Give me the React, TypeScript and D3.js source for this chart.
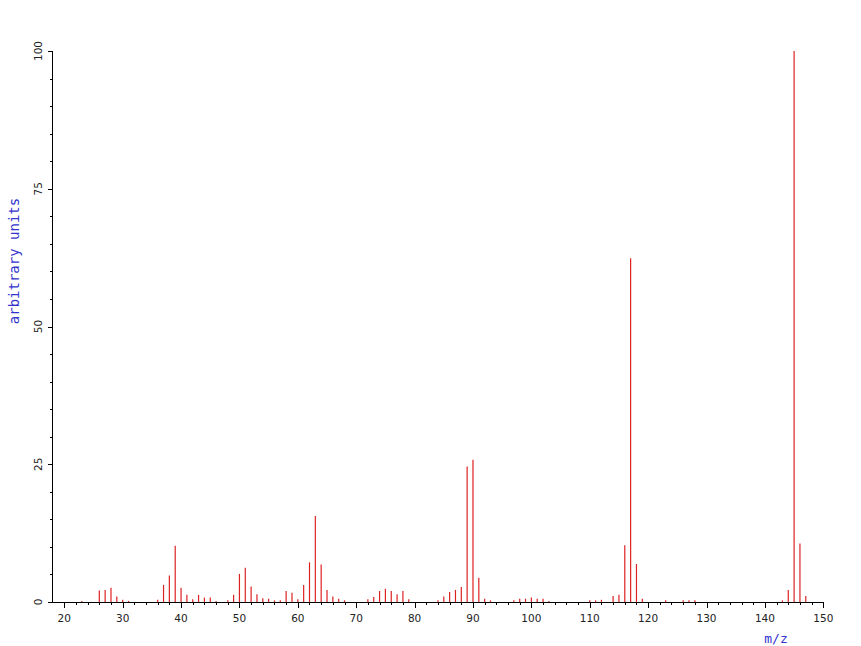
import React from 'react';
import * as d3 from 'd3';

// m/z positions and relative intensities
const mzValues = [
  23, 26, 27, 28, 29, 30, 31, 36, 37, 38, 39, 40, 41, 42, 43, 44, 45, 46, 48, 49,
  50, 51, 52, 53, 54, 55, 56, 57, 58, 59, 60, 61, 62, 63, 64, 65, 66, 67, 68,
  72, 73, 74, 75, 76, 77, 78, 79, 84, 85, 86, 87, 88, 89, 90, 91, 92, 93,
  97, 98, 99, 100, 101, 102, 103, 110, 111, 112, 114, 115, 116, 117, 118, 119,
  123, 126, 127, 128, 143, 144, 145, 146, 147,
];
const intensities = [
  0.2, 2.1, 2.2, 2.6, 1.0, 0.4, 0.2, 0.4, 3.1, 4.8, 10.2, 2.6, 1.3, 0.5, 1.3, 0.8, 0.8, 0.2, 0.3, 1.3,
  5.1, 6.2, 2.8, 1.4, 0.7, 0.6, 0.3, 0.3, 2.0, 1.7, 0.5, 3.1, 7.2, 15.6, 6.8, 2.2, 1.0, 0.6, 0.3,
  0.5, 0.9, 2.0, 2.4, 2.0, 1.4, 2.0, 0.5, 0.3, 1.0, 1.8, 2.2, 2.7, 24.6, 25.8, 4.4, 0.6, 0.3,
  0.3, 0.6, 0.6, 0.8, 0.6, 0.6, 0.2, 0.3, 0.3, 0.4, 1.1, 1.3, 10.3, 62.4, 6.9, 0.6,
  0.3, 0.3, 0.3, 0.3, 0.3, 2.2, 100, 10.6, 1.1,
];
const xMajorTicks = [20, 30, 40, 50, 60, 70, 80, 90, 100, 110, 120, 130, 140, 150];
const yMajorTicks = [0, 25, 50, 75, 100];

const width = 861;
const height = 646;

export default function App() {
  const x = d3.scaleLinear().domain([18, 150]).range([52.6, 823.3]);
  const y = d3.scaleLinear().domain([0, 100]).range([602, 51]);

  const xMinor = d3.range(20, 151, 2).filter((v) => v % 10 !== 0);
  const yMinor = d3.range(0, 101, 5).filter((v) => v % 25 !== 0);
  const peaks = mzValues.map((m, i) => ({ m, v: intensities[i] }));

  const y0 = y(0);
  const xLeft = x(18);

  return (
    <div style={{ position: 'absolute', left: 0, top: 0 }}>
      <svg width={width} height={height} style={{ display: 'block', background: '#fff' }}>
        {/* peaks */}
        <g stroke="#dd2222" strokeWidth={1.2}>
          {peaks.map((p) => (
            <line key={p.m} x1={x(p.m)} x2={x(p.m)} y1={y0} y2={y(p.v)} />
          ))}
        </g>

        {/* axes */}
        <g stroke="#000" strokeWidth={1} shapeRendering="crispEdges">
          <line x1={xLeft} x2={x(150)} y1={y0 + 0.5} y2={y0 + 0.5} />
          <line x1={xLeft} x2={xLeft} y1={y(100)} y2={y0} />
          {xMajorTicks.map((t) => (
            <line key={'xm' + t} x1={Math.round(x(t)) + 0.5} x2={Math.round(x(t)) + 0.5} y1={y0} y2={y0 + 6} />
          ))}
          {xMinor.map((t) => (
            <line key={'xn' + t} x1={Math.round(x(t)) + 0.5} x2={Math.round(x(t)) + 0.5} y1={y0} y2={y0 + 3} />
          ))}
          {yMajorTicks.map((t) => (
            <line key={'ym' + t} x1={xLeft - 5} x2={xLeft} y1={Math.round(y(t)) + 0.5} y2={Math.round(y(t)) + 0.5} />
          ))}
          {yMinor.map((t) => (
            <line key={'yn' + t} x1={xLeft - 3} x2={xLeft} y1={Math.round(y(t)) + 0.5} y2={Math.round(y(t)) + 0.5} />
          ))}
        </g>

        {/* tick labels */}
        <g fontFamily="DejaVu Sans, sans-serif" fontSize={10.5} fill="#222">
          {xMajorTicks.map((t) => (
            <text key={'xl' + t} x={x(t)} y={622} textAnchor="middle">{t}</text>
          ))}
          {yMajorTicks.map((t) => (
            <text key={'yl' + t} transform={`translate(42,${y(t)}) rotate(-90)`} textAnchor="middle">{t}</text>
          ))}
        </g>

        {/* axis titles */}
        <text x={776} y={643} textAnchor="middle" fontFamily="DejaVu Sans Mono, monospace" fontSize={13} fill="#3333cc">m/z</text>
        <text transform="translate(19,261) rotate(-90)" textAnchor="middle" fontFamily="DejaVu Sans Mono, monospace" fontSize={14} fill="#3333cc">arbitrary units</text>
      </svg>
    </div>
  );
}
